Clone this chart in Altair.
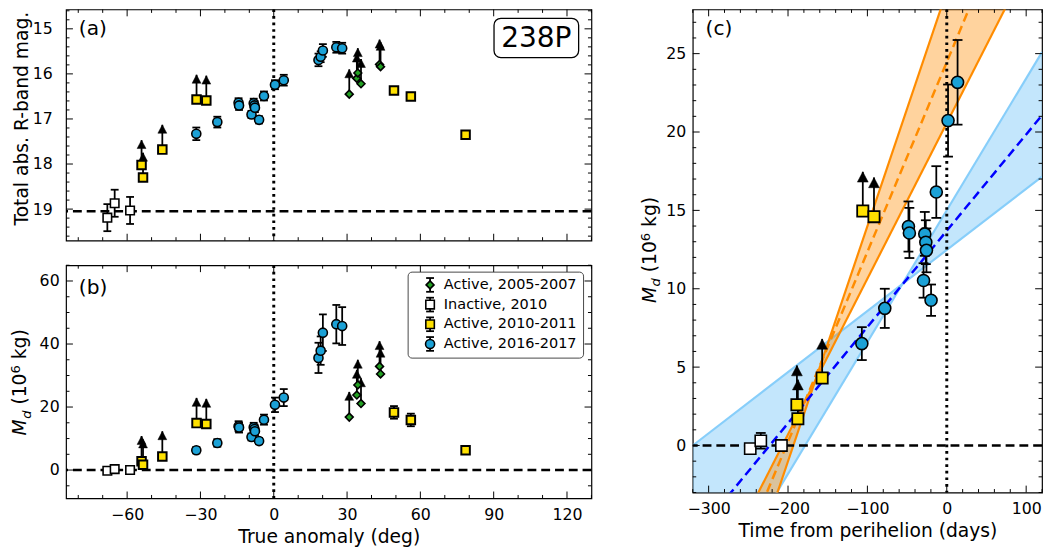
import altair as alt
import pandas as pd

FONT = "DejaVu Sans"
BLUE = "#1ba1d6"
YELLOW = "#ffe100"
GREEN = "#22a022"

# ---------------- panels (a) and (b): true anomaly (deg) ----------------
# Active, 2005-2007 (lower limits)
grn_nu = [30.9, 34.0, 34.4, 35.7, 43.3, 43.7]
grn_mag = [16.45, 16.10, 15.98, 16.22, 15.79, 15.84]
grn_md = [16.8, 23.8, 27.0, 21.1, 32.9, 30.5]

# Inactive, 2010
ina_nu = [-68.1, -65.1, -58.8]
ina_mag = [19.19, 18.87, 19.03]
ina_mag_err = [0.30, 0.30, 0.30]
ina_md = [-0.2, 0.3, 0.0]
ina_md_err = [0.3, 0.3, 0.3]

# Active, 2010-2011
yel_nu = [-54.1, -53.5, -45.6, -31.6, -27.6, 49.2, 56.1, 78.5]
yel_mag = [18.02, 18.30, 17.68, 16.57, 16.59, 16.37, 16.50, 17.35]
yel_mag_err = [0, 0, 0, 0, 0, 0.08, 0.08, 0.05]
yel_md = [2.8, 1.7, 4.3, 14.9, 14.6, 18.3, 15.9, 6.3]
yel_md_err = [0, 0, 0, 0, 0, 2.0, 2.0, 0.6]
yel_lim = [True, True, True, True, True, False, False, False]

# Active, 2016-2017
blu_nu = [-31.7, -23.1, -14.4, -14.2, -9.1, -8.2, -7.9, -7.7, -6.0, -4.0,
          0.5, 4.1, 18.3, 19.2, 20.1, 25.6, 28.0]
blu_mag = [17.33, 17.07, 16.64, 16.70, 16.90, 16.65, 16.70, 16.75, 17.02, 16.49,
           16.24, 16.14, 15.69, 15.62, 15.48, 15.41, 15.43]
blu_mag_err = [0.14, 0.12, 0.10, 0.10, 0.08, 0.10, 0.10, 0.10, 0.08, 0.10,
               0.10, 0.12, 0.14, 0.12, 0.14, 0.12, 0.12]
blu_md = [6.3, 8.6, 13.9, 13.5, 10.5, 13.6, 13.0, 12.3, 9.2, 16.0,
          20.7, 23.0, 35.6, 37.9, 43.6, 46.3, 45.7]
blu_md_err = [1.0, 1.2, 1.6, 1.6, 1.1, 1.4, 1.4, 1.4, 1.0, 1.6,
              2.3, 2.7, 4.8, 4.5, 5.8, 6.1, 6.0]

inactive_mag_level = 19.05

# ---------------- panel (c): time from perihelion (days) ----------------
c_ina_t = [-247.6, -234.3, -208.3]
c_ina_md = [-0.2, 0.3, 0.0]
c_ina_err = [0.3, 0.5, 0.3]

c_yel_t = [-188.8, -187.6, -157.0, -105.8, -91.7]
c_yel_md = [2.6, 1.7, 4.3, 14.96, 14.6]

c_blu_t = [-107.0, -78.1, -48.3, -47.1, -29.3, -27.7, -26.4, -25.6, -19.8, -13.2, 1.6, 13.6]
c_blu_md = [6.5, 8.75, 13.97, 13.56, 10.53, 13.5, 12.97, 12.45, 9.27, 16.17, 20.73, 23.17]
c_blu_err = [1.05, 1.25, 1.6, 1.6, 1.1, 1.4, 1.4, 1.4, 1.0, 1.65, 2.3, 2.7]

# fitted lines (end points at the panel's time limits)
fit_t = [-320, 120]
blue_fit = [-5.95, 21.07]
blue_edge1 = [0.0, 17.16]
blue_edge2 = [-11.9, 25.1]
orng_fit = [-14.3, 39.0]
orng_edge1 = [-19.0, 46.98]
orng_edge2 = [-11.2, 32.49]

# axis tick values
ab_x_major = [-60, -30, 0, 30, 60, 90, 120]
ab_x_minor = [v for v in range(-80, 131, 10) if v % 30]
a_y_major = [15, 16, 17, 18, 19]
a_y_minor = [round(14.6 + 0.2 * i, 1) for i in range(26) if round((14.6 + 0.2 * i) % 1, 1) not in (0.0, 1.0)]
b_y_major = [0, 20, 40, 60]
b_y_minor = [v for v in range(-5, 66, 5) if v % 20]
c_x_major = [-300, -200, -100, 0, 100]
c_x_minor = [v for v in range(-320, 121, 20) if v % 100]
c_y_major = [0, 5, 10, 15, 20, 25]
c_y_minor = [v for v in range(-3, 28) if v % 5]

# ---------------- sizes ----------------
W_AB, H_A, H_B = 534, 235, 237
W_C, H_C = 355, 491
LW = 1.8


def mk_scales(xdom, ydom, rev=False):
    xs = alt.Scale(domain=xdom, nice=False, zero=False)
    ys = alt.Scale(domain=ydom, nice=False, zero=False, reverse=rev)
    return xs, ys


def enc_factory(scale, axis, ch):
    def f(field):
        if ch == "x":
            return alt.X(field, type="quantitative", scale=scale, axis=axis)
        return alt.Y(field, type="quantitative", scale=scale, axis=axis)
    return f


def pts_df(x, y, err=None, lim=None, arrow=0.0):
    rows = []
    for i in range(len(x)):
        e = err[i] if err else 0.0
        l = lim[i] if lim else False
        rows.append(dict(x=x[i], y=y[i], lo=y[i] - e, hi=y[i] + e, tip=y[i] + arrow, lim=l, err=e))
    return pd.DataFrame(rows)


def series_layers(df, X, Y, shape, fill, size, cap, head, lw=LW, edge=1.6):
    L = []
    e = df[df.err > 0]
    if len(e):
        L.append(alt.Chart(e).mark_rule(color="black", strokeWidth=lw).encode(
            x=X("x"), y=Y("lo"), y2="hi"))
        for c in ("lo", "hi"):
            L.append(alt.Chart(e).mark_point(shape="M-1,0L1,0", size=cap * cap, filled=False,
                                             stroke="black", strokeWidth=lw, opacity=1).encode(
                x=X("x"), y=Y(c)))
    a = df[df.lim]
    if len(a):
        L.append(alt.Chart(a).mark_rule(color="black", strokeWidth=lw).encode(
            x=X("x"), y=Y("y"), y2="tip"))
        L.append(alt.Chart(a).mark_point(shape="M0,0L1,1.9L-1,1.9Z", size=head * head, filled=True,
                                         fill="black", stroke="black", strokeWidth=0.5,
                                         opacity=1).encode(x=X("x"), y=Y("tip")))
    L.append(alt.Chart(df).mark_point(shape=shape, size=size, filled=True, fill=fill,
                                      stroke="black", strokeWidth=edge, opacity=1).encode(
        x=X("x"), y=Y("y")))
    return L


def tick_layers(X, Y, xmaj, xmin, ymaj, ymin, w, h, L1=7, L2=3.5):
    L = []
    for vals, ln in ((xmaj, L1), (xmin, L2)):
        d = pd.DataFrame({"x": vals})
        L.append(alt.Chart(d).mark_rule(color="black", strokeWidth=1).encode(
            x=X("x"), y=alt.value(0), y2=alt.value(ln)))
        L.append(alt.Chart(d).mark_rule(color="black", strokeWidth=1).encode(
            x=X("x"), y=alt.value(h), y2=alt.value(h - ln)))
    for vals, ln in ((ymaj, L1), (ymin, L2)):
        d = pd.DataFrame({"y": vals})
        L.append(alt.Chart(d).mark_rule(color="black", strokeWidth=1).encode(
            y=Y("y"), x=alt.value(0), x2=alt.value(ln)))
        L.append(alt.Chart(d).mark_rule(color="black", strokeWidth=1).encode(
            y=Y("y"), x=alt.value(w), x2=alt.value(w - ln)))
    return L


def T(text, x, y, size, align="left", baseline="alphabetic", angle=0, style="normal"):
    kw = dict(align=align, baseline=baseline, fontSize=size, font=FONT, color="black",
              fontStyle=style)
    if angle:
        kw["angle"] = angle
    return alt.Chart(pd.DataFrame({"t": [text]})).mark_text(**kw).encode(
        x=alt.value(x), y=alt.value(y), text="t:N")


def md_title(base_x, cy):
    pieces = [("M", 19, "italic", 0, 16.9),
              ("d", 13.3, "italic", 4.5, 14.4),
              ("(10", 19, "normal", 0, 31.6),
              ("6", 13.3, "normal", -6.5, 14.5),
              ("kg)", 19, "normal", 0, 30.5)]
    total = sum(p[4] for p in pieces)
    y = cy + total / 2
    L = []
    for txt, sz, st, dx, adv in pieces:
        L.append(T(txt, base_x + dx, y, sz, angle=270, style=st))
        y -= adv
    return L


def hline(Y, v):
    return alt.Chart(pd.DataFrame({"y": [v]})).mark_rule(
        color="black", strokeWidth=2.5, strokeDash=[9, 5]).encode(y=Y("y"))


def vline(X, v):
    return alt.Chart(pd.DataFrame({"x": [v]})).mark_rule(
        color="black", strokeWidth=3, strokeDash=[2.7, 4]).encode(x=X("x"))


lab_kw = dict(labelFont=FONT, labelFontSize=16, labelColor="black", ticks=False, domain=False,
              grid=False, labelFlush=False, labelOverlap=False, title=None)

# ---------------- panel (a) ----------------
xs_ab, ys_a = mk_scales([-85, 130], [14.57, 19.7], rev=True)
Xa = enc_factory(xs_ab, None, "x")
Ya = enc_factory(ys_a, alt.Axis(values=a_y_major, labelPadding=14, **lab_kw), "y")

la = [hline(Ya, inactive_mag_level), vline(Xa, 0)]
la += series_layers(pts_df(grn_nu, grn_mag, lim=[True] * 6, arrow=-0.55), Xa, Ya,
                    "diamond", GREEN, 64, 8, 9)
la += series_layers(pts_df(ina_nu, ina_mag, ina_mag_err), Xa, Ya, "square", "white", 75, 8, 9)
la += series_layers(pts_df(yel_nu, yel_mag, yel_mag_err, yel_lim, arrow=-0.55), Xa, Ya,
                    "square", YELLOW, 75, 8, 9, edge=2.0)
la += series_layers(pts_df(blu_nu, blu_mag, blu_mag_err), Xa, Ya, "circle", BLUE, 85, 8, 9)
la += tick_layers(Xa, Ya, ab_x_major, ab_x_minor, a_y_major, a_y_minor, W_AB, H_A)
la.append(T("(a)", 13, 26, 20.5))
la.append(alt.Chart(pd.DataFrame({"t": ["238P"]})).mark_rect(
    fill="white", stroke="black", strokeWidth=1.3, cornerRadius=7).encode(
    x=alt.value(435), x2=alt.value(521), y=alt.value(9), y2=alt.value(49)))
la.append(T("238P", 478, 29.5, 28.5, align="center", baseline="middle"))
la += [T("Total abs. R-band mag.", -38.3, 111, 19, align="center", angle=270)]
chart_a = alt.layer(*la).properties(width=W_AB, height=H_A)

# ---------------- panel (b) ----------------
_, ys_b = mk_scales([-85, 130], [-9, 65])
Xb = enc_factory(xs_ab, alt.Axis(values=ab_x_major, labelPadding=8, **{**lab_kw, "title": "True anomaly (deg)"},
                                 titleFont=FONT, titleFontSize=19, titleFontWeight="normal",
                                 titleColor="black", titlePadding=6), "x")
Yb = enc_factory(ys_b, alt.Axis(values=b_y_major, labelPadding=7, **lab_kw), "y")

lb = [hline(Yb, 0), vline(Xb, 0)]
lb += series_layers(pts_df(grn_nu, grn_md, lim=[True] * 6, arrow=8), Xb, Yb,
                    "diamond", GREEN, 64, 8, 9)
lb += series_layers(pts_df(ina_nu, ina_md, ina_md_err), Xb, Yb, "square", "white", 75, 8, 9)
lb += series_layers(pts_df(yel_nu, yel_md, yel_md_err, yel_lim, arrow=8), Xb, Yb,
                    "square", YELLOW, 75, 8, 9, edge=2.0)
lb += series_layers(pts_df(blu_nu, blu_md, blu_md_err), Xb, Yb, "circle", BLUE, 85, 8, 9)
lb += tick_layers(Xb, Yb, ab_x_major, ab_x_minor, b_y_major, b_y_minor, W_AB, H_B)
lb.append(T("(b)", 13, 29, 20.5))
lb += md_title(-40.5, 119)

# legend
lb.append(alt.Chart(pd.DataFrame({"t": ["box"]})).mark_rect(
    fill="white", stroke="#333333", strokeWidth=1, cornerRadius=4, opacity=0.9).encode(
    x=alt.value(347.7), x2=alt.value(526), y=alt.value(7), y2=alt.value(94.4)))
legend_entries = [("Active, 2005-2007", "diamond", GREEN, 64),
                  ("Inactive, 2010", "square", "white", 75),
                  ("Active, 2010-2011", "square", YELLOW, 75),
                  ("Active, 2016-2017", "circle", BLUE, 85)]
for i, (lab, shp, col, sz) in enumerate(legend_entries):
    yy = 20 + 20 * i
    one = pd.DataFrame({"t": [lab]})
    lb.append(alt.Chart(one).mark_rule(color="black", strokeWidth=LW).encode(
        x=alt.value(370), y=alt.value(yy - 7), y2=alt.value(yy + 7)))
    for dy in (-7, 7):
        lb.append(alt.Chart(one).mark_point(shape="M-1,0L1,0", size=64, filled=False,
                                            stroke="black", strokeWidth=LW, opacity=1).encode(
            x=alt.value(370), y=alt.value(yy + dy)))
    lb.append(alt.Chart(one).mark_point(shape=shp, size=sz, filled=True, fill=col, stroke="black",
                                        strokeWidth=1.6, opacity=1).encode(
        x=alt.value(370), y=alt.value(yy)))
    lb.append(T(lab, 384, yy, 14.7, baseline="middle"))
chart_b = alt.layer(*lb).properties(width=W_AB, height=H_B)

# ---------------- panel (c) ----------------
xs_c, ys_c = mk_scales([-320, 120], [-3, 27.82])
Xc = enc_factory(xs_c, alt.Axis(values=c_x_major, labelPadding=8, **{**lab_kw, "title": "Time from perihelion (days)"},
                                titleFont=FONT, titleFontSize=19, titleFontWeight="normal",
                                titleColor="black", titlePadding=6), "x")
Yc = enc_factory(ys_c, alt.Axis(values=c_y_major, labelPadding=7, **lab_kw), "y")

band_blue = pd.DataFrame({"x": fit_t, "a": blue_edge1, "b": blue_edge2})
band_orng = pd.DataFrame({"x": fit_t, "a": orng_edge1, "b": orng_edge2})
lc = []
lc.append(alt.Chart(band_blue).mark_area(clip=True, color="#87cefa", opacity=0.5).encode(
    x=Xc("x"), y=Yc("a"), y2="b"))
for col in ("a", "b"):
    lc.append(alt.Chart(band_blue).mark_line(clip=True, color="#87cefa", strokeWidth=2.2).encode(
        x=Xc("x"), y=Yc(col)))
lc.append(alt.Chart(band_orng).mark_area(clip=True, color="#ff8c00", opacity=0.38).encode(
    x=Xc("x"), y=Yc("a"), y2="b"))
for col in ("a", "b"):
    lc.append(alt.Chart(band_orng).mark_line(clip=True, color="#ff8c00", strokeWidth=2.2).encode(
        x=Xc("x"), y=Yc(col)))
lc.append(alt.Chart(pd.DataFrame({"x": fit_t, "y": orng_fit})).mark_line(
    clip=True, color="#ff8c00", strokeWidth=2.5, strokeDash=[9, 5]).encode(x=Xc("x"), y=Yc("y")))
lc.append(alt.Chart(pd.DataFrame({"x": fit_t, "y": blue_fit})).mark_line(
    clip=True, color="#0000ff", strokeWidth=2.5, strokeDash=[9, 5]).encode(x=Xc("x"), y=Yc("y")))
lc += [hline(Yc, 0), vline(Xc, 0)]
lc += series_layers(pts_df(c_ina_t, c_ina_md, c_ina_err), Xc, Yc, "square", "white", 130, 10, 10)
lc += series_layers(pts_df(c_yel_t, c_yel_md, lim=[True] * 5, arrow=2.5), Xc, Yc,
                    "square", YELLOW, 130, 10, 11, edge=1.8)
lc += series_layers(pts_df(c_blu_t, c_blu_md, c_blu_err), Xc, Yc, "circle", BLUE, 150, 10, 10)
lc += tick_layers(Xc, Yc, c_x_major, c_x_minor, c_y_major, c_y_minor, W_C, H_C)
lc.append(T("(c)", 13, 26, 20.5))
lc += md_title(-37.4, 244.5)
chart_c = alt.layer(*lc).properties(width=W_C, height=H_C)

left = alt.vconcat(chart_a, chart_b, spacing=19)
chart = alt.hconcat(left, chart_c, spacing=45).properties(
    padding={"left": 0, "top": -6, "right": 0, "bottom": 0}
).configure(font=FONT).configure_view(stroke="black", strokeWidth=1.2)

chart.save("out.html", embed_options={"renderer": "svg", "actions": False})
